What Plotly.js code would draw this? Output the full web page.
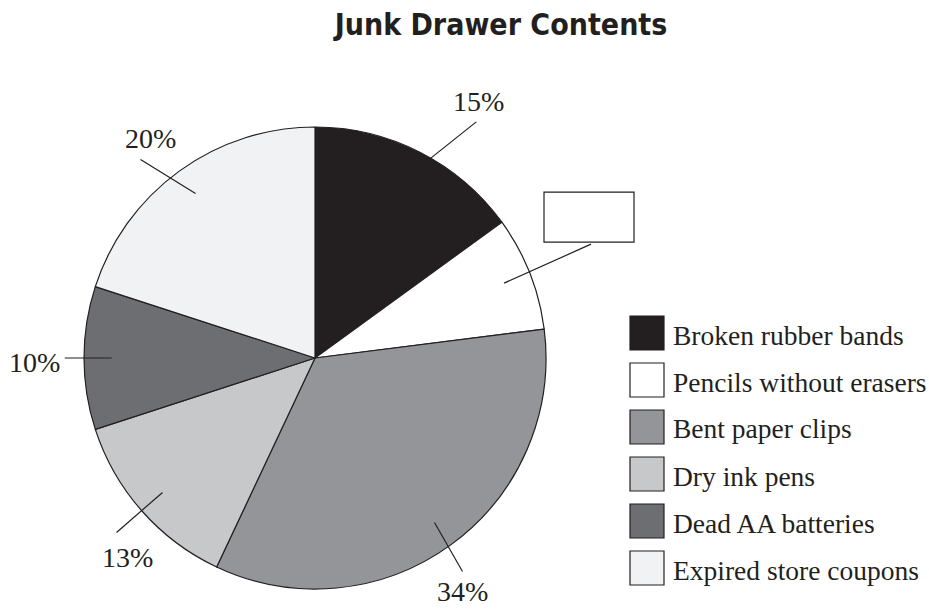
<!DOCTYPE html>
<html>
<head>
<meta charset="utf-8">
<script src="https://cdn.plot.ly/plotly-3.0.1.min.js"></script>
<style>html,body{margin:0;padding:0;background:#fff;}#chart{width:929px;height:612px;}</style>
</head>
<body>
<div id="chart"></div>
<script>
// ---- data ----
const categories = ['Broken rubber bands', 'Pencils without erasers', 'Bent paper clips', 'Dry ink pens', 'Dead AA batteries', 'Expired store coupons'];
const values = [15, 8, 34, 13, 10, 20];
const pctLabels = ['15%', '', '34%', '13%', '10%', '20%'];   // pencils label left blank (answer box)
const colors = ['#231f20', '#ffffff', '#939598', '#c7c8ca', '#6d6e71', '#f1f2f3'];
const chartTitle = 'Junk Drawer Contents';

// ---- layout constants (pixels) ----
const W = 929, H = 612;
const cx = 315, cy = 358, R = 231;
const innerFrac = 0.88;
// leader-line outer end, as pixel offset from the inner point
const leaderOffsets = [[69, -55], [87, -39], [28, 49], [-46, 40], [-47, 0], [-55, -34]];
// label centre as pixel offset from the leader's outer end
const labelOffsets = [[2, -20], [0, 0], [0, 20], [11, 25], [-30, 4], [10, -21]];
const ink = '#231f20';
const serif = "'Liberation Serif', 'Times New Roman', serif";
const narrow = "'Liberation Sans Narrow', 'Arial Narrow', 'DejaVu Sans Condensed', sans-serif";

const px2x = p => p / W;
const py2y = p => 1 - p / H;

const total = values.reduce((a, b) => a + b, 0);
const shapes = [];
const annotations = [];
let cum = 0;
values.forEach((v, i) => {
  const mid = (cum + v / 2) / total * 2 * Math.PI;
  cum += v;
  const ix = cx + innerFrac * R * Math.sin(mid);
  const iy = cy - innerFrac * R * Math.cos(mid);
  const ox = ix + leaderOffsets[i][0];
  const oy = iy + leaderOffsets[i][1];
  shapes.push({type: 'line', xref: 'paper', yref: 'paper',
    x0: px2x(ix), y0: py2y(iy), x1: px2x(ox), y1: py2y(oy),
    line: {color: ink, width: 1.2}, layer: 'above'});
  if (pctLabels[i] === '') {
    // blank answer box
    shapes.push({type: 'rect', xref: 'paper', yref: 'paper',
      x0: px2x(ox - 47), x1: px2x(ox + 43), y0: py2y(oy - 52), y1: py2y(oy - 2),
      line: {color: ink, width: 1.2}, fillcolor: '#ffffff', layer: 'above'});
  } else {
    annotations.push({xref: 'paper', yref: 'paper',
      x: px2x(ox + labelOffsets[i][0]), y: py2y(oy + labelOffsets[i][1]),
      xanchor: 'center', yanchor: 'middle', showarrow: false,
      text: pctLabels[i], font: {family: serif, size: 28, color: ink}});
  }
});

// ---- custom legend ----
const legX = 630, legY0 = 333, legStep = 47, sq = 34;
categories.forEach((c, i) => {
  const yc = legY0 + i * legStep;
  shapes.push({type: 'rect', xref: 'paper', yref: 'paper',
    x0: px2x(legX), x1: px2x(legX + sq), y0: py2y(yc - sq / 2), y1: py2y(yc + sq / 2),
    line: {color: ink, width: 1.2}, fillcolor: colors[i]});
  annotations.push({xref: 'paper', yref: 'paper', x: px2x(legX + 41), y: py2y(yc + 2),
    xanchor: 'left', yanchor: 'middle', showarrow: false, text: c,
    font: {family: serif, size: 27.5, color: ink}});
});

const trace = {
  type: 'pie', values: values, labels: categories, sort: false,
  direction: 'clockwise', rotation: 0,
  marker: {colors: colors, line: {color: ink, width: 1.2}},
  textinfo: 'none', hoverinfo: 'none', showlegend: false,
  domain: {x: [px2x(cx - R), px2x(cx + R)], y: [py2y(cy + R), py2y(cy - R)]}
};

const layout = {
  width: W, height: H, margin: {l: 0, r: 0, t: 0, b: 0},
  paper_bgcolor: '#ffffff', plot_bgcolor: '#ffffff', showlegend: false,
  title: {text: chartTitle, x: 501 / W, xanchor: 'center', y: 1 - 24 / H, yanchor: 'middle',
    font: {family: narrow, size: 30, weight: 700, color: ink}},
  shapes: shapes, annotations: annotations
};

Plotly.newPlot('chart', [trace], layout, {staticPlot: true, displayModeBar: false});
</script>
</body>
</html>
